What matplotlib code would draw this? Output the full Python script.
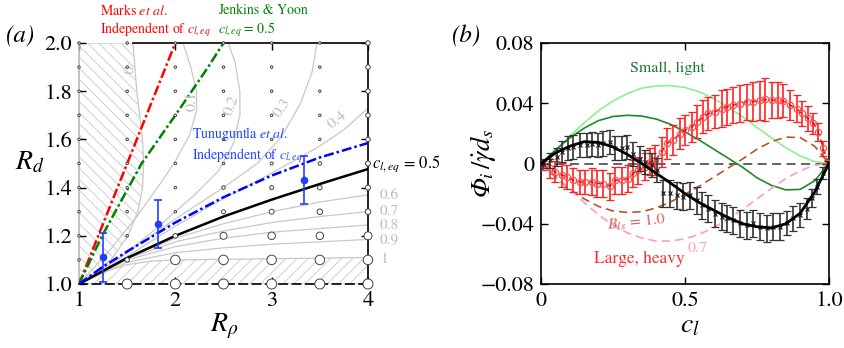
import numpy as np
from matplotlib import pyplot as plt

plt.rcParams['font.family'] = ['STIXGeneral', 'Liberation Serif', 'DejaVu Serif']
plt.rcParams['mathtext.fontset'] = 'stix'
plt.rcParams['hatch.linewidth'] = 0.6

# ---------------- panel (a) data ----------------
rho_grid = [1.0, 1.5, 2.0, 2.5, 3.0, 3.5, 4.0]
rd_grid = [1.0, 1.1, 1.2, 1.3, 1.4, 1.5, 1.6, 1.7, 1.8, 1.9, 2.0]
# marker diameter (px) for each (rd, rho) simulation point
marker_px = [
    [0, 10, 10, 10, 10, 10, 10],
    [2.5, 4.5, 9.5, 9.5, 9.5, 9.5, 9.5],
    [2.5, 2.5, 4.5, 7, 7.5, 7.5, 8],
    [2.5, 2.5, 2.5, 4, 5, 5.5, 5.5],
    [2.5, 2.5, 2.5, 3.5, 4, 4.5, 5],
    [2.5, 2.5, 2.5, 2.5, 3, 3.5, 5],
    [2.5, 2.5, 2.5, 2.5, 2.5, 2.5, 4.5],
    [2.5, 2.5, 2.5, 2.5, 2.5, 2.5, 4.5],
    [2.5, 2.5, 2.5, 2.5, 2.5, 2.5, 4.5],
    [2.5, 2.5, 2.5, 2.5, 2.5, 2.5, 4.5],
    [2.5, 2.5, 2.5, 2.5, 2.5, 2.5, 4.5],
]

# hatched regions (c_l,eq = 0 and c_l,eq = 1)
bound0_rd = [1.0, 1.1, 1.2, 1.3, 1.4, 1.5, 1.6, 1.7, 1.8, 1.9, 2.0]
bound0_rho = [1.0, 1.33, 1.51, 1.61, 1.66, 1.67, 1.66, 1.63, 1.60, 1.58, 1.56]
bound1_rho = [1.0, 1.25, 1.5, 1.75, 2.0, 3.0, 4.0]
bound1_rd = [1.0, 1.05, 1.08, 1.095, 1.10, 1.105, 1.11]

# gray iso-c_l,eq lines
c01_rho = [1.0, 1.3, 1.6, 1.85, 2.0, 2.15, 2.22, 2.22, 2.16, 2.08]
c01_rd = [1.0, 1.13, 1.28, 1.42, 1.51, 1.62, 1.72, 1.80, 1.90, 2.0]
c02_rho = [1.0, 1.4, 1.8, 2.2, 2.45, 2.6, 2.67, 2.67, 2.62, 2.55]
c02_rd = [1.0, 1.1, 1.23, 1.37, 1.47, 1.58, 1.70, 1.80, 1.92, 2.0]
c03_rho = [1.0, 1.5, 2.0, 2.5, 2.85, 3.1, 3.3, 3.42, 3.47]
c03_rd = [1.0, 1.13, 1.27, 1.40, 1.50, 1.61, 1.75, 1.88, 2.0]
c04_rho = [1.0, 1.5, 2.0, 2.5, 3.0, 3.47, 3.75, 4.0]
c04_rd = [1.0, 1.115, 1.24, 1.355, 1.46, 1.565, 1.64, 1.73]
low_rho = [1.0, 1.5, 2.0, 2.5, 3.0, 3.5, 4.0]
c06_rd = [1.0, 1.107, 1.19, 1.25, 1.30, 1.34, 1.37]
c07_rd = [1.0, 1.105, 1.175, 1.22, 1.255, 1.28, 1.30]
c08_rd = [1.0, 1.10, 1.155, 1.19, 1.215, 1.23, 1.245]
c09_rd = [1.0, 1.09, 1.13, 1.15, 1.165, 1.175, 1.185]
c05_rd = [1.0, 1.108, 1.20, 1.28, 1.35, 1.415, 1.477]

# model predictions
marks_rho = [1.0, 2.0]
marks_rd = [1.0, 2.0]
jy_rho = [1.0, 1.24, 1.65, 2.0, 2.34, 2.5]
jy_rd = [1.0, 1.2, 1.5, 1.7, 1.9, 2.0]
tun_rho = [1.0, 1.25, 1.5, 2.0, 2.5, 3.0, 3.5, 4.0]
tun_rd = [1.0, 1.072, 1.135, 1.255, 1.36, 1.45, 1.525, 1.585]

# experiments
exp_rho = [1.25, 1.815, 3.34]
exp_rd = [1.11, 1.25, 1.43]
exp_err = [0.10, 0.10, 0.10]

# ---------------- panel (b) data ----------------
cl_line = [0.0, 0.05, 0.1, 0.15, 0.2, 0.25, 0.3, 0.35, 0.4, 0.45, 0.5,
           0.55, 0.6, 0.65, 0.7, 0.75, 0.8, 0.85, 0.9, 0.95, 1.0]
light_green = [0, 0.0085, 0.018, 0.027, 0.035, 0.0415, 0.0465, 0.050, 0.0515, 0.0517, 0.0505,
               0.0475, 0.043, 0.0375, 0.031, 0.024, 0.017, 0.0105, 0.005, 0.0013, 0]
dark_green = [0, 0.009, 0.017, 0.0235, 0.0285, 0.0312, 0.032, 0.0315, 0.0295, 0.026, 0.021,
              0.0155, 0.0095, 0.0035, -0.0025, -0.0095, -0.0145, -0.0175, -0.0172, -0.0115, 0]
brown = [0, -0.009, -0.017, -0.0235, -0.0285, -0.0315, -0.0325, -0.032, -0.0295, -0.0255, -0.0205,
         -0.015, -0.009, -0.003, 0.003, 0.0095, 0.0145, 0.0175, 0.0172, 0.0115, 0]
pink = [0, -0.008, -0.017, -0.026, -0.034, -0.041, -0.046, -0.0495, -0.0515, -0.0515, -0.050,
        -0.047, -0.0425, -0.037, -0.0305, -0.0235, -0.0165, -0.010, -0.0048, -0.0012, 0]
black_fit = [0, 0.007, 0.0115, 0.0145, 0.014, 0.011, 0.006, 0.0, -0.0065, -0.013, -0.020,
             -0.026, -0.031, -0.036, -0.040, -0.042, -0.0428, -0.040, -0.033, -0.019, 0]

cl_red = [0.008, 0.031, 0.049, 0.072, 0.089, 0.112, 0.135, 0.153, 0.176, 0.193, 0.216, 0.240,
          0.257, 0.280, 0.303, 0.321, 0.338, 0.361, 0.378, 0.396, 0.419, 0.436, 0.459, 0.483,
          0.500, 0.523, 0.541, 0.564, 0.581, 0.604, 0.627, 0.645, 0.668, 0.691, 0.714, 0.737,
          0.760, 0.778, 0.801, 0.824, 0.841, 0.865, 0.888, 0.905, 0.928, 0.946, 0.963, 0.980, 0.998]
phi_red = [-0.0011, -0.0033, -0.0055, -0.0077, -0.0089, -0.0111, -0.0122, -0.0122, -0.0122,
           -0.0133, -0.0133, -0.015, -0.011, -0.011, -0.010, -0.0066, -0.0044, -0.0022, 0.0011,
           0.0022, 0.0077, 0.0133, 0.0155, 0.0199, 0.0221, 0.0243, 0.0277, 0.031, 0.0332, 0.0343,
           0.0365, 0.0376, 0.0387, 0.0398, 0.041, 0.041, 0.042, 0.0425, 0.042, 0.042, 0.0416,
           0.0387, 0.0365, 0.0332, 0.0299, 0.0266, 0.021, 0.010, 0.0004]
err_red = [0.003, 0.006, 0.007, 0.008, 0.008, 0.008, 0.008, 0.008, 0.009, 0.009, 0.009, 0.009,
           0.009, 0.009, 0.009, 0.009, 0.009, 0.009, 0.009, 0.010, 0.010, 0.010, 0.010, 0.010,
           0.010, 0.010, 0.011, 0.011, 0.011, 0.011, 0.012, 0.012, 0.012, 0.012, 0.012, 0.013,
           0.013, 0.014, 0.012, 0.012, 0.011, 0.010, 0.009, 0.008, 0.008, 0.007, 0.006, 0.005, 0.002]

cl_blk = [0.008, 0.031, 0.054, 0.072, 0.095, 0.112, 0.135, 0.159, 0.176, 0.199, 0.216, 0.240,
          0.257, 0.280, 0.297, 0.321, 0.344, 0.361, 0.384, 0.402, 0.425, 0.448, 0.471, 0.494,
          0.517, 0.541, 0.558, 0.581, 0.604, 0.627, 0.645, 0.668, 0.691, 0.714, 0.737, 0.760,
          0.784, 0.807, 0.830, 0.853, 0.876, 0.899, 0.922, 0.940, 0.957, 0.980, 0.998]
phi_blk = [0.0, 0.0022, 0.0044, 0.0077, 0.010, 0.0111, 0.0122, 0.0122, 0.0128, 0.0122, 0.0133,
           0.0144, 0.010, 0.010, 0.0111, 0.0066, 0.0033, 0.0011, -0.0011, -0.0044, -0.0199,
           -0.0199, -0.021, -0.0221, -0.021, -0.0243, -0.0277, -0.0299, -0.0332, -0.0354, -0.0365,
           -0.0376, -0.0398, -0.041, -0.0398, -0.042, -0.0431, -0.042, -0.042, -0.0398, -0.0365,
           -0.0343, -0.0299, -0.0232, -0.0155, -0.0066, -0.0004]
err_blk = [0.003, 0.005, 0.006, 0.007, 0.008, 0.008, 0.008, 0.008, 0.008, 0.008, 0.008, 0.008,
           0.008, 0.008, 0.008, 0.008, 0.008, 0.008, 0.008, 0.008, 0.009, 0.009, 0.009, 0.009,
           0.009, 0.009, 0.009, 0.009, 0.009, 0.009, 0.009, 0.009, 0.009, 0.009, 0.009, 0.009,
           0.009, 0.009, 0.009, 0.008, 0.008, 0.008, 0.007, 0.006, 0.005, 0.004, 0.002]


def px(x, y):
    # figure pixel -> figure fraction
    return x / 845, 1 - y / 348


fig = plt.figure(figsize=(8.45, 3.48), dpi=100)
ax1 = fig.add_axes([79 / 845, 64 / 348, 289 / 845, 241 / 348])
ax2 = fig.add_axes([541 / 845, 64 / 348, 288 / 845, 241 / 348])

# ---------------- panel (a) ----------------
gray = '#c8c8c8'
ax1.fill_betweenx(bound0_rd, 1.0, bound0_rho, facecolor='none', edgecolor=gray,
                  hatch='\\\\\\', linewidth=0.9, zorder=1)
ax1.fill_between(bound1_rho, 1.0, bound1_rd, facecolor='none', edgecolor=gray,
                 hatch='///', linewidth=0.9, zorder=1)

for xs, ys in [(c01_rho, c01_rd), (c02_rho, c02_rd), (c03_rho, c03_rd), (c04_rho, c04_rd),
               (low_rho, c06_rd), (low_rho, c07_rd), (low_rho, c08_rd), (low_rho, c09_rd)]:
    ax1.plot(xs, ys, color=gray, lw=0.9, zorder=2)

dashdot = (0, (4, 1.2, 1, 1.2))
ax1.plot(low_rho, c05_rd, color='k', lw=1.8, zorder=3)
ax1.plot(marks_rho, marks_rd, color='#ff0000', lw=1.8, ls=dashdot, zorder=3)
ax1.plot(jy_rho, jy_rd, color='#008000', lw=1.8, ls=dashdot, zorder=3)
ax1.plot(tun_rho, tun_rd, color='#0000ff', lw=1.8, ls=dashdot, zorder=3)
ax1.errorbar(exp_rho, exp_rd, yerr=exp_err, fmt='o', color='#1f3fff', ms=4.5,
             capsize=3, elinewidth=1.2, capthick=1.2, zorder=6)

gx, gy = np.meshgrid(rho_grid, rd_grid)
sizes = (np.array(marker_px) * 0.72) ** 2
ax1.scatter(gx.ravel(), gy.ravel(), s=sizes.ravel(), facecolor='white',
            edgecolor='#444444', linewidth=0.7, zorder=5, clip_on=False)

lab_kw = dict(color='#bdbdbd', fontsize=11.5, ha='center', va='center')
ax1.text(1.53, 1.89, '0', rotation=85, **lab_kw)
ax1.text(2.17, 1.76, '0.1', rotation=90, **lab_kw)
ax1.text(2.58, 1.74, '0.2', rotation=70, **lab_kw)
ax1.text(3.11, 1.73, '0.3', rotation=55, **lab_kw)
ax1.text(3.68, 1.68, '0.4', rotation=38, **lab_kw)

ax1.set_xlim(1, 4)
ax1.set_ylim(1, 2)
ax1.set_xticks([1, 2, 3, 4])
ax1.set_yticks([1.0, 1.2, 1.4, 1.6, 1.8, 2.0])
ax1.set_yticklabels(['1.0', '1.2', '1.4', '1.6', '1.8', '2.0'])
ax1.tick_params(direction='in', top=True, right=True, length=5, width=1,
                labelsize=16, pad=5)
ax1.spines['left'].set_color('#bbbbbb')
ax1.spines['bottom'].set_linestyle((0, (5, 3)))
ax1.spines['top'].set_bounds(1.56, 4)
for s in ax1.spines.values():
    s.set_linewidth(1.2)

fig.text(*px(6, 36), '(a)', fontsize=18, style='italic', ha='left', va='center')
fig.text(*px(30, 163), r'$R_d$', fontsize=20, ha='center', va='center')
fig.text(*px(224, 326), r'$R_\rho$', fontsize=20, ha='center', va='center')

two_line = dict(fontsize=10, va='center', ha='left', linespacing=1.25)
fig.text(*px(100, 21), 'Marks $\\mathit{et\\ al}$.\nIndependent of $c_{l,eq}$',
         color='#ff0000', **two_line)
fig.text(*px(218, 21), 'Jenkins & Yoon\n$c_{l,eq}$ = 0.5', color='#008000', **two_line)
fig.text(*px(192, 145), 'Tunuguntla $\\mathit{et\\ al}$.\nIndependent of $c_{l,eq}$',
         color='#1f3fff', **two_line)
fig.text(*px(372, 164), r'$c_{l,eq}$ = 0.5', color='k', fontsize=12, va='center')
for lab, yy in [('0.6', 195), ('0.7', 211), ('0.8', 225), ('0.9', 240), ('1', 259)]:
    fig.text(*px(380, yy), lab, color='#bdbdbd', fontsize=11, va='center')

# ---------------- panel (b) ----------------
ax2.axhline(0, color='#555555', lw=1.3, ls=(0, (5, 3)), zorder=1)
ax2.plot(cl_line, light_green, color='#90ee90', lw=1.2, zorder=2)
ax2.plot(cl_line, dark_green, color='#1f8a2a', lw=1.2, zorder=2)
ax2.plot(cl_line, brown, color='#b5562a', lw=1.2, ls=(0, (5, 3)), zorder=2)
ax2.plot(cl_line, pink, color='#ff99cc', lw=1.2, ls=(0, (5, 3)), zorder=2)

ax2.errorbar(cl_red, phi_red, yerr=err_red, fmt='o', mfc='none', mec='#ff5050', ms=4.5,
             mew=0.9, ecolor='#ff2020', elinewidth=1.2, capsize=3, capthick=1.2, zorder=3)
ax2.plot(cl_red, phi_red, color='#e00000', lw=1.0, ls=(0, (4, 3)), zorder=3)
ax2.errorbar(cl_blk, phi_blk, yerr=err_blk, fmt='x', color='#222222', ms=3.5,
             mew=0.9, ecolor='#333333', elinewidth=1.2, capsize=3, capthick=1.2, zorder=4)
ax2.plot(cl_line, black_fit, color='k', lw=2.0, zorder=5)

ax2.set_xlim(0, 1)
ax2.set_ylim(-0.08, 0.08)
ax2.set_xticks([0, 0.5, 1.0])
ax2.set_xticklabels(['0', '0.5', '1.0'])
ax2.set_yticks([-0.08, -0.04, 0, 0.04, 0.08])
ax2.set_yticklabels(['\u22120.08', '\u22120.04', '0', '0.04', '0.08'])
ax2.tick_params(direction='in', top=True, right=True, length=5, width=1,
                labelsize=16, pad=5)
for s in ax2.spines.values():
    s.set_linewidth(1.2)

ax2.text(0.44, 0.0635, 'Small, light', color='#1f7a33', fontsize=11.5, ha='center', va='center')
ax2.text(0.34, -0.0635, 'Large, heavy', color='#ff2a2a', fontsize=12.5, ha='center', va='center')
ax2.text(0.33, -0.0390, r'$B_{ls}$ = 1.0', color='#d9605a', fontsize=11.5, ha='center',
         va='center', rotation=6)
ax2.text(0.545, -0.0560, '0.7', color='#ff9fbf', fontsize=11.5, ha='center', va='center')

fig.text(*px(452, 36), '(b)', fontsize=18, style='italic', ha='left', va='center')
fig.text(*px(483, 163), 'Φ$_i\\,/\\dot{\\gamma}d_s$', fontsize=19, style='italic',
         rotation=90, ha='center', va='center')
fig.text(*px(690, 326), r'$c_l$', fontsize=20, ha='center', va='center')

fig.savefig('out.png', dpi=100)
